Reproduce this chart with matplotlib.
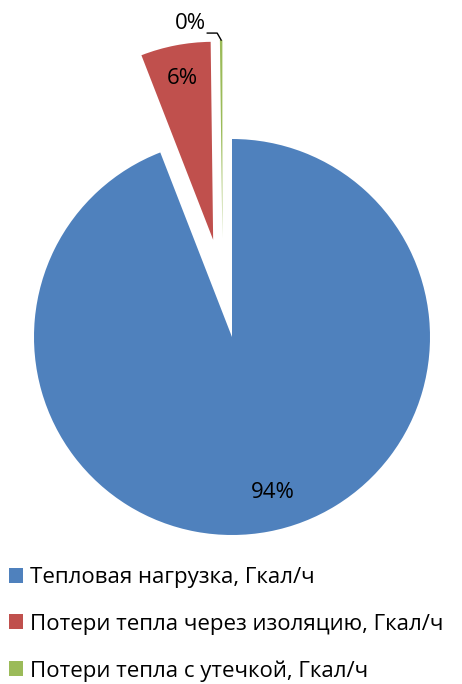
import numpy as np
import matplotlib.pyplot as plt

labels = ['Тепловая нагрузка, Гкал/ч',
          'Потери тепла через изоляцию, Гкал/ч',
          'Потери тепла с утечкой, Гкал/ч']
values = [94.1, 5.7, 0.2]
pct_text = ['94%', '6%', '0%']
colors = ['#4F81BD', '#C0504D', '#9BBB59']

plt.rcParams['font.family'] = ['Open Sans', 'DejaVu Sans']

W, H = 462, 684
cx, cy, r = 232, 347, 198   # pie centre (px from bottom-left) and radius

fig = plt.figure(figsize=(W / 100, H / 100), dpi=100)
ax = fig.add_axes([0, 0, 1, 1])

explode = [0, 0.5, 0.5]
wedges, _ = ax.pie(values, colors=colors, startangle=90, counterclock=False,
                   explode=explode, radius=1, wedgeprops=dict(linewidth=0))
ax.set_xlim(-cx / r, (W - cx) / r)
ax.set_ylim(-cy / r, (H - cy) / r)
ax.set_aspect('auto')
ax.axis('off')

# nudge the thin slice a bit left, as in the original
gx, gy = wedges[2].center
wedges[2].set_center((gx - 9 / r, gy))

pdist = [0.8, 0.83]
for i in range(2):
    w = wedges[i]
    mid = np.deg2rad((w.theta1 + w.theta2) / 2)
    ox, oy = w.center
    ax.text(ox + pdist[i] * np.cos(mid) + (0.06 if i == 0 else 0),
            oy + pdist[i] * np.sin(mid), pct_text[i],
            ha='center', va='center', fontsize=16, color='black')

# label for the tiny slice, with a leader line
w = wedges[2]
mid = np.deg2rad((w.theta1 + w.theta2) / 2)
ox, oy = w.center
tip = (ox + np.cos(mid), oy + np.sin(mid))
y_lab = tip[1] + 0.035
ax.plot([tip[0], tip[0] - 0.02, tip[0] - 0.07], [tip[1], y_lab, y_lab],
        color='black', lw=1)
ax.text(tip[0] - 0.075, y_lab + 0.05, pct_text[2], ha='right', va='center',
        fontsize=16, color='black')

fig.legend(wedges, labels, loc='upper left', bbox_to_anchor=(0.0, 0.184),
           frameon=False, fontsize=16, handlelength=0.65, handleheight=0.65,
           handletextpad=0.3, labelspacing=1.15, borderaxespad=0)

fig.savefig('out.png', dpi=100)
